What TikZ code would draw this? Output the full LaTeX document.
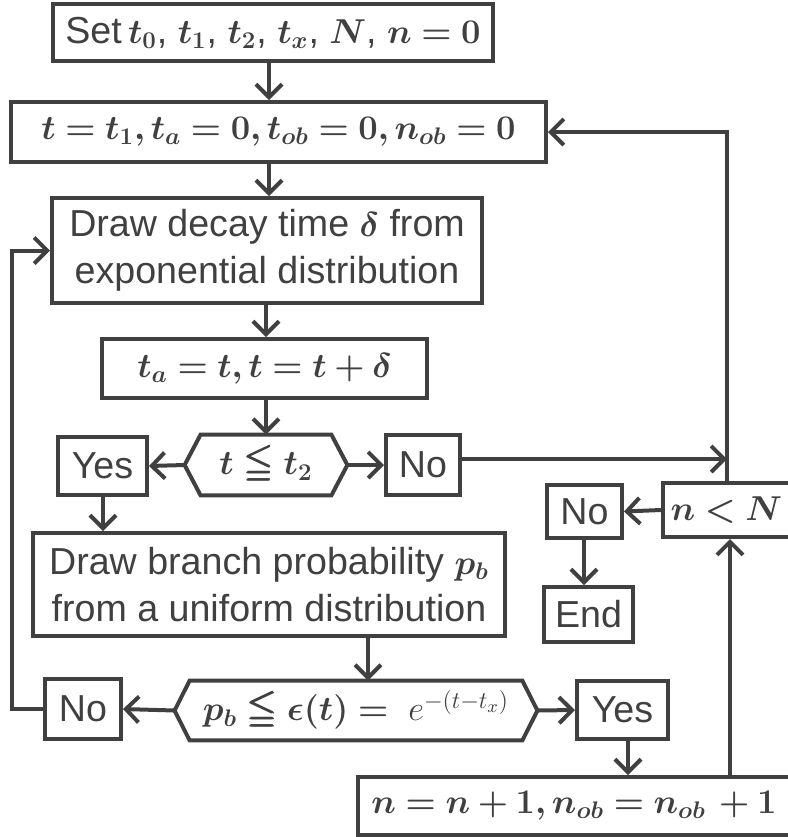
\documentclass[tikz,border=0pt]{standalone}
\usepackage{amsmath,amssymb,bm}
\usepackage[no-math]{fontspec}
\setmainfont{Liberation Sans}
\usetikzlibrary{arrows.meta,calc}
\definecolor{ink}{HTML}{404040}
\begin{document}
\begin{tikzpicture}[x=0.5pt,y=-0.5pt,
  txt/.style={inner sep=0pt, align=center, text=ink, font=\fontsize{18.8}{23.5}\selectfont},
  mtxt/.style={font=\fontsize{18.8}{23.5}\selectfont},
  box/.style={txt, draw=ink, line width=2pt},
  ln/.style={draw=ink, line width=2pt},
  arr/.style={ln, -{Straight Barb[length=6.5pt,width=13pt]}}]
\useasboundingbox (0,0) rectangle (788,837);
% nodes
\node[box, minimum width=220pt, minimum height=28.5pt] (A) at (273,32.5)
  {Set\,$\bm{t_0}$, $\bm{t_1}$, $\bm{t_2}$, $\bm{t_x}$, $\bm{N}$, $\bm{n=0}$};
\node[box, mtxt, minimum width=267.5pt, minimum height=30pt] (B) at (278.5,132)
  {$\bm{t=t_1, t_a=0, t_{ob}=0, n_{ob}=0}$};
\node[box, minimum width=215pt, minimum height=52.5pt] (C) at (267,250.5)
  {Draw decay time $\bm{\delta}$ from\\exponential distribution};
\node[box, mtxt, minimum width=162.5pt, minimum height=29.5pt] (D) at (264.5,368.5)
  {$\bm{t_a=t, t=t+\delta}$};
\node[txt, mtxt, minimum width=65pt, minimum height=30pt] (E) at (266,465)
  {$\bm{t\leqq t_2}$};
\coordinate (El) at ($(E.west)+(-16,0)$);
\coordinate (Er) at ($(E.east)+(16,0)$);
\draw[ln, line join=miter] (E.north west) -- (E.north east) -- (Er) -- (E.south east) -- (E.south west) -- (El) -- cycle;
\node[box, minimum width=44.5pt, minimum height=29pt] (Y1) at (102.5,466) {Yes};
\node[box, minimum width=37pt, minimum height=30pt] (N1) at (423,465) {No};
\node[box, mtxt, minimum width=63.5pt, minimum height=27pt] (nN) at (726.5,510) {$\bm{n<N}$};
\node[box, minimum width=37.5pt, minimum height=26.5pt] (N2) at (584.5,511.5) {No};
\node[box, minimum width=44.5pt, minimum height=27.5pt] (End) at (588.5,614.5) {End};
\node[box, minimum width=236pt, minimum height=51.5pt] (F) at (269,584.5)
  {Draw branch probability $\bm{p_b}$\\from a uniform distribution};
\node[txt, mtxt, minimum width=166pt, minimum height=29.5pt] (G) at (356,710.5)
  {$\bm{p_b\leqq\epsilon(t)=}\ e^{-(t-t_x)}$};
\coordinate (Gl) at ($(G.west)+(-15,0)$);
\coordinate (Gr) at ($(G.east)+(15,0)$);
\draw[ln, line join=miter] (G.north west) -- (G.north east) -- (Gr) -- (G.south east) -- (G.south west) -- (Gl) -- cycle;
\node[box, minimum width=38pt, minimum height=30pt] (N3) at (83,709) {No};
\node[box, minimum width=45.5pt, minimum height=29pt] (Y2) at (622.5,710) {Yes};
\node[box, mtxt, minimum width=216pt, minimum height=29pt] (H) at (574,806)
  {$\bm{n=n+1, n_{ob}=n_{ob}\,+1}$};
% columns
\coordinate (c1) at (269,0);
\coordinate (c2) at (266,0);
\coordinate (c3) at (103,0);
\coordinate (c4) at (368,0);
\coordinate (c5) at (628,0);
\coordinate (c6) at (584,0);
\coordinate (c7) at (727,0);
\coordinate (c8) at (730,0);
\coordinate (lx) at (12,0);
\coordinate (j1) at (727,459);
% connectors
\draw[arr] (A.south -| c1) -- (B.north -| c1);
\draw[arr] (B.south -| c1) -- (C.north -| c1);
\draw[arr] (C.south -| c2) -- (D.north -| c2);
\draw[arr] (D.south -| c2) -- (E.north -| c2);
\draw[arr] (El) -- (Y1.east);
\draw[arr] (Er) -- (N1.west);
\draw[arr] (N1.east |- j1) -- (j1);
\draw[arr] (nN.north -| c7) -- (c7 |- B.east) -- (B.east);
\draw[arr] (nN.west) -- (N2.east);
\draw[arr] (N2.south -| c6) -- (End.north -| c6);
\draw[arr] (Y1.south -| c3) -- (F.north -| c3);
\draw[arr] (F.south -| c4) -- (G.north -| c4);
\draw[arr] (Gl) -- (N3.east);
\draw[arr] (Gr) -- (Y2.west);
\draw[arr] (N3.west) -- (N3.west -| lx) -- (lx |- C.west) -- (C.west);
\draw[arr] (Y2.south -| c5) -- (H.north -| c5);
\draw[arr] (H.north -| c8) -- (nN.south -| c8);
\end{tikzpicture}
\end{document}
